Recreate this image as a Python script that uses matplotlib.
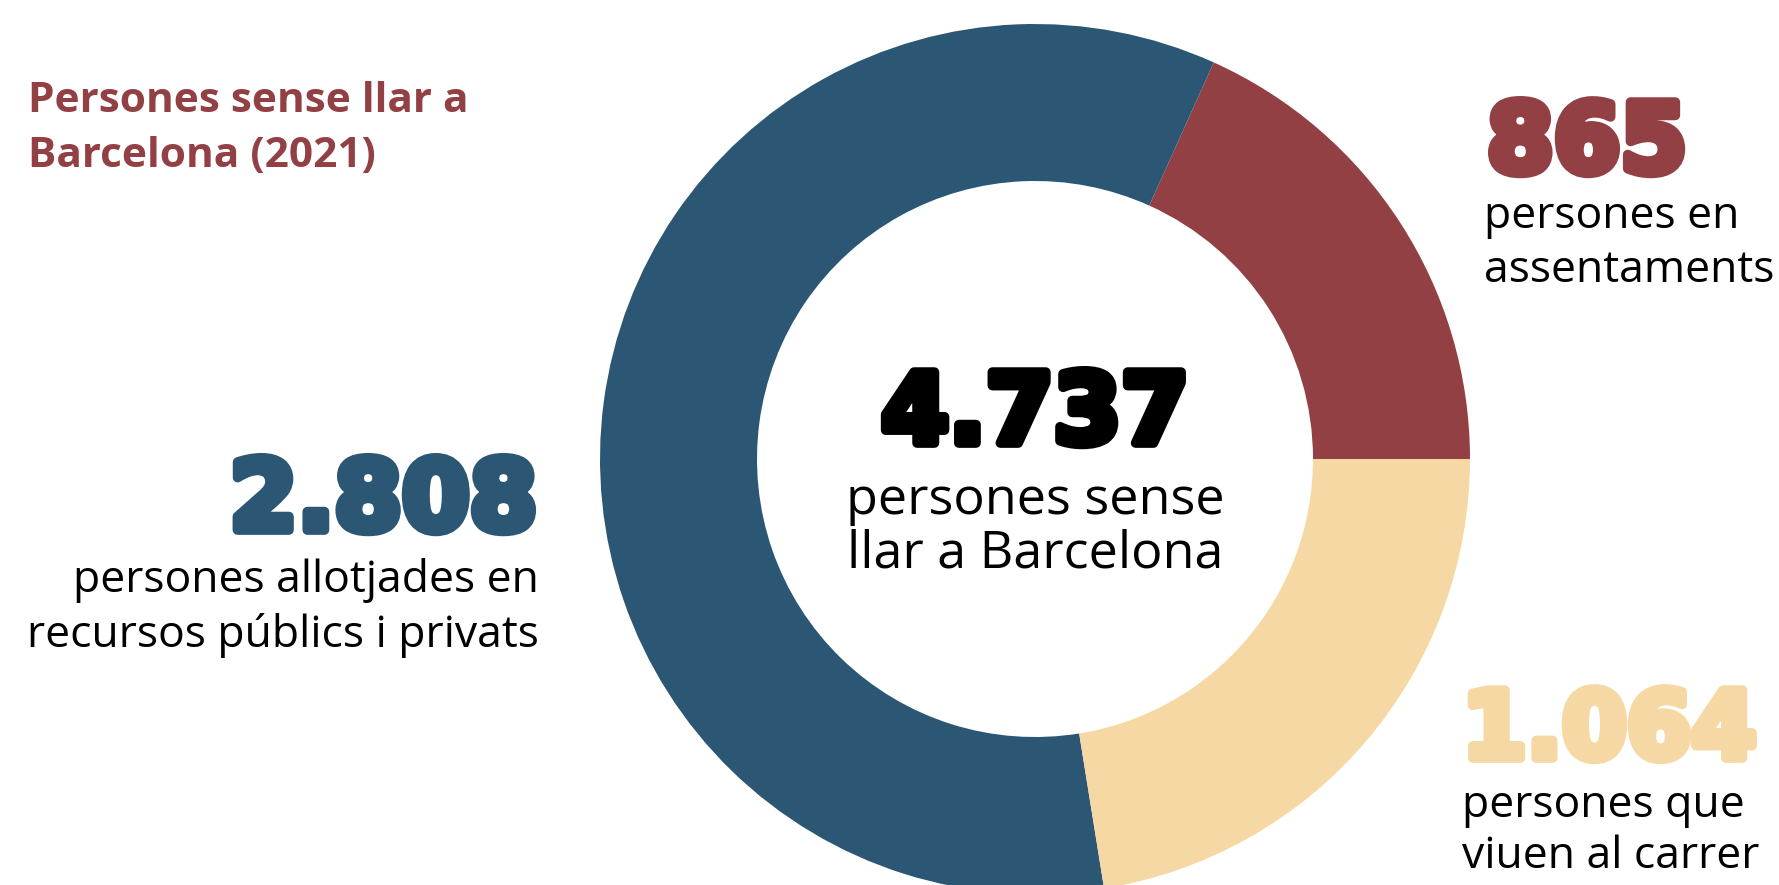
import matplotlib
matplotlib.use("Agg")
import matplotlib.pyplot as plt
import matplotlib.patheffects as path_effects

# dades (2021)
categories = ["assentaments", "allotjades", "carrer"]
values = [865, 2808, 1064]
total = 4737
colors = ["#934045", "#2b5775", "#f6d8a4"]

number_labels = ["865", "2.808", "1.064"]
text_labels = [
    ["persones en", "assentaments"],
    ["persones allotjades en", "recursos públics i privats"],
    ["persones que", "viuen al carrer"],
]
center_label = ["persones sense", "llar a Barcelona"]
title = ["Persones sense llar a", "Barcelona (2021)"]

W, H = 1779, 885
fig = plt.figure(figsize=(W / 100, H / 100), dpi=100)
ax = fig.add_axes([0, 0, 1, 1])

# donut, centre en píxels (y cap amunt)
cx, cy = 1035, H - 459
ax.pie(
    values,
    colors=colors,
    startangle=0,
    counterclock=True,
    radius=435,
    center=(cx, cy),
    wedgeprops=dict(width=435 - 278, linewidth=0),
)
ax.set_xlim(0, W)
ax.set_ylim(0, H)
ax.set_aspect("equal")
ax.axis("off")

num_font = dict(family=["DejaVu Sans"], fontweight="bold", fontsize=70)
body_font = dict(family=["Open Sans", "DejaVu Sans"], fontsize=32, color="black")


def big_number(x, y, s, color, ha, size=70):
    t = ax.text(x, H - y, s, color=color, ha=ha, va="baseline",
                **{**num_font, "fontsize": size})
    # traç gruixut perquè sembli una lletra "black"
    t.set_path_effects(
        [path_effects.Stroke(linewidth=7, foreground=color), path_effects.Normal()]
    )
    return t


def lines(x, y, rows, ha, step=54, **kw):
    for i, row in enumerate(rows):
        ax.text(x, H - (y + i * step), row, ha=ha, va="baseline", **kw)


# títol
lines(28, 112, title, "left", step=55, color="#934045",
      family=["Open Sans", "DejaVu Sans"], fontweight="bold", fontsize=30.5)

# centre
big_number(cx, 443, f"{total:,}".replace(",", "."), "black", "center")
lines(cx, 514, center_label, "center", **{**body_font, "fontsize": 37.5})

# 865
big_number(1487, 172, number_labels[0], colors[0], "left", size=69)
lines(1484, 228, text_labels[0], "left", **body_font)

# 2.808
big_number(537, 530, number_labels[1], colors[1], "right")
lines(539, 592, text_labels[1], "right", step=55, **body_font)

# 1.064
big_number(1462, 758, number_labels[2], colors[2], "left", size=67)
lines(1462, 817, text_labels[2], "left", step=51, **body_font)

fig.savefig("out.png", dpi=100)
